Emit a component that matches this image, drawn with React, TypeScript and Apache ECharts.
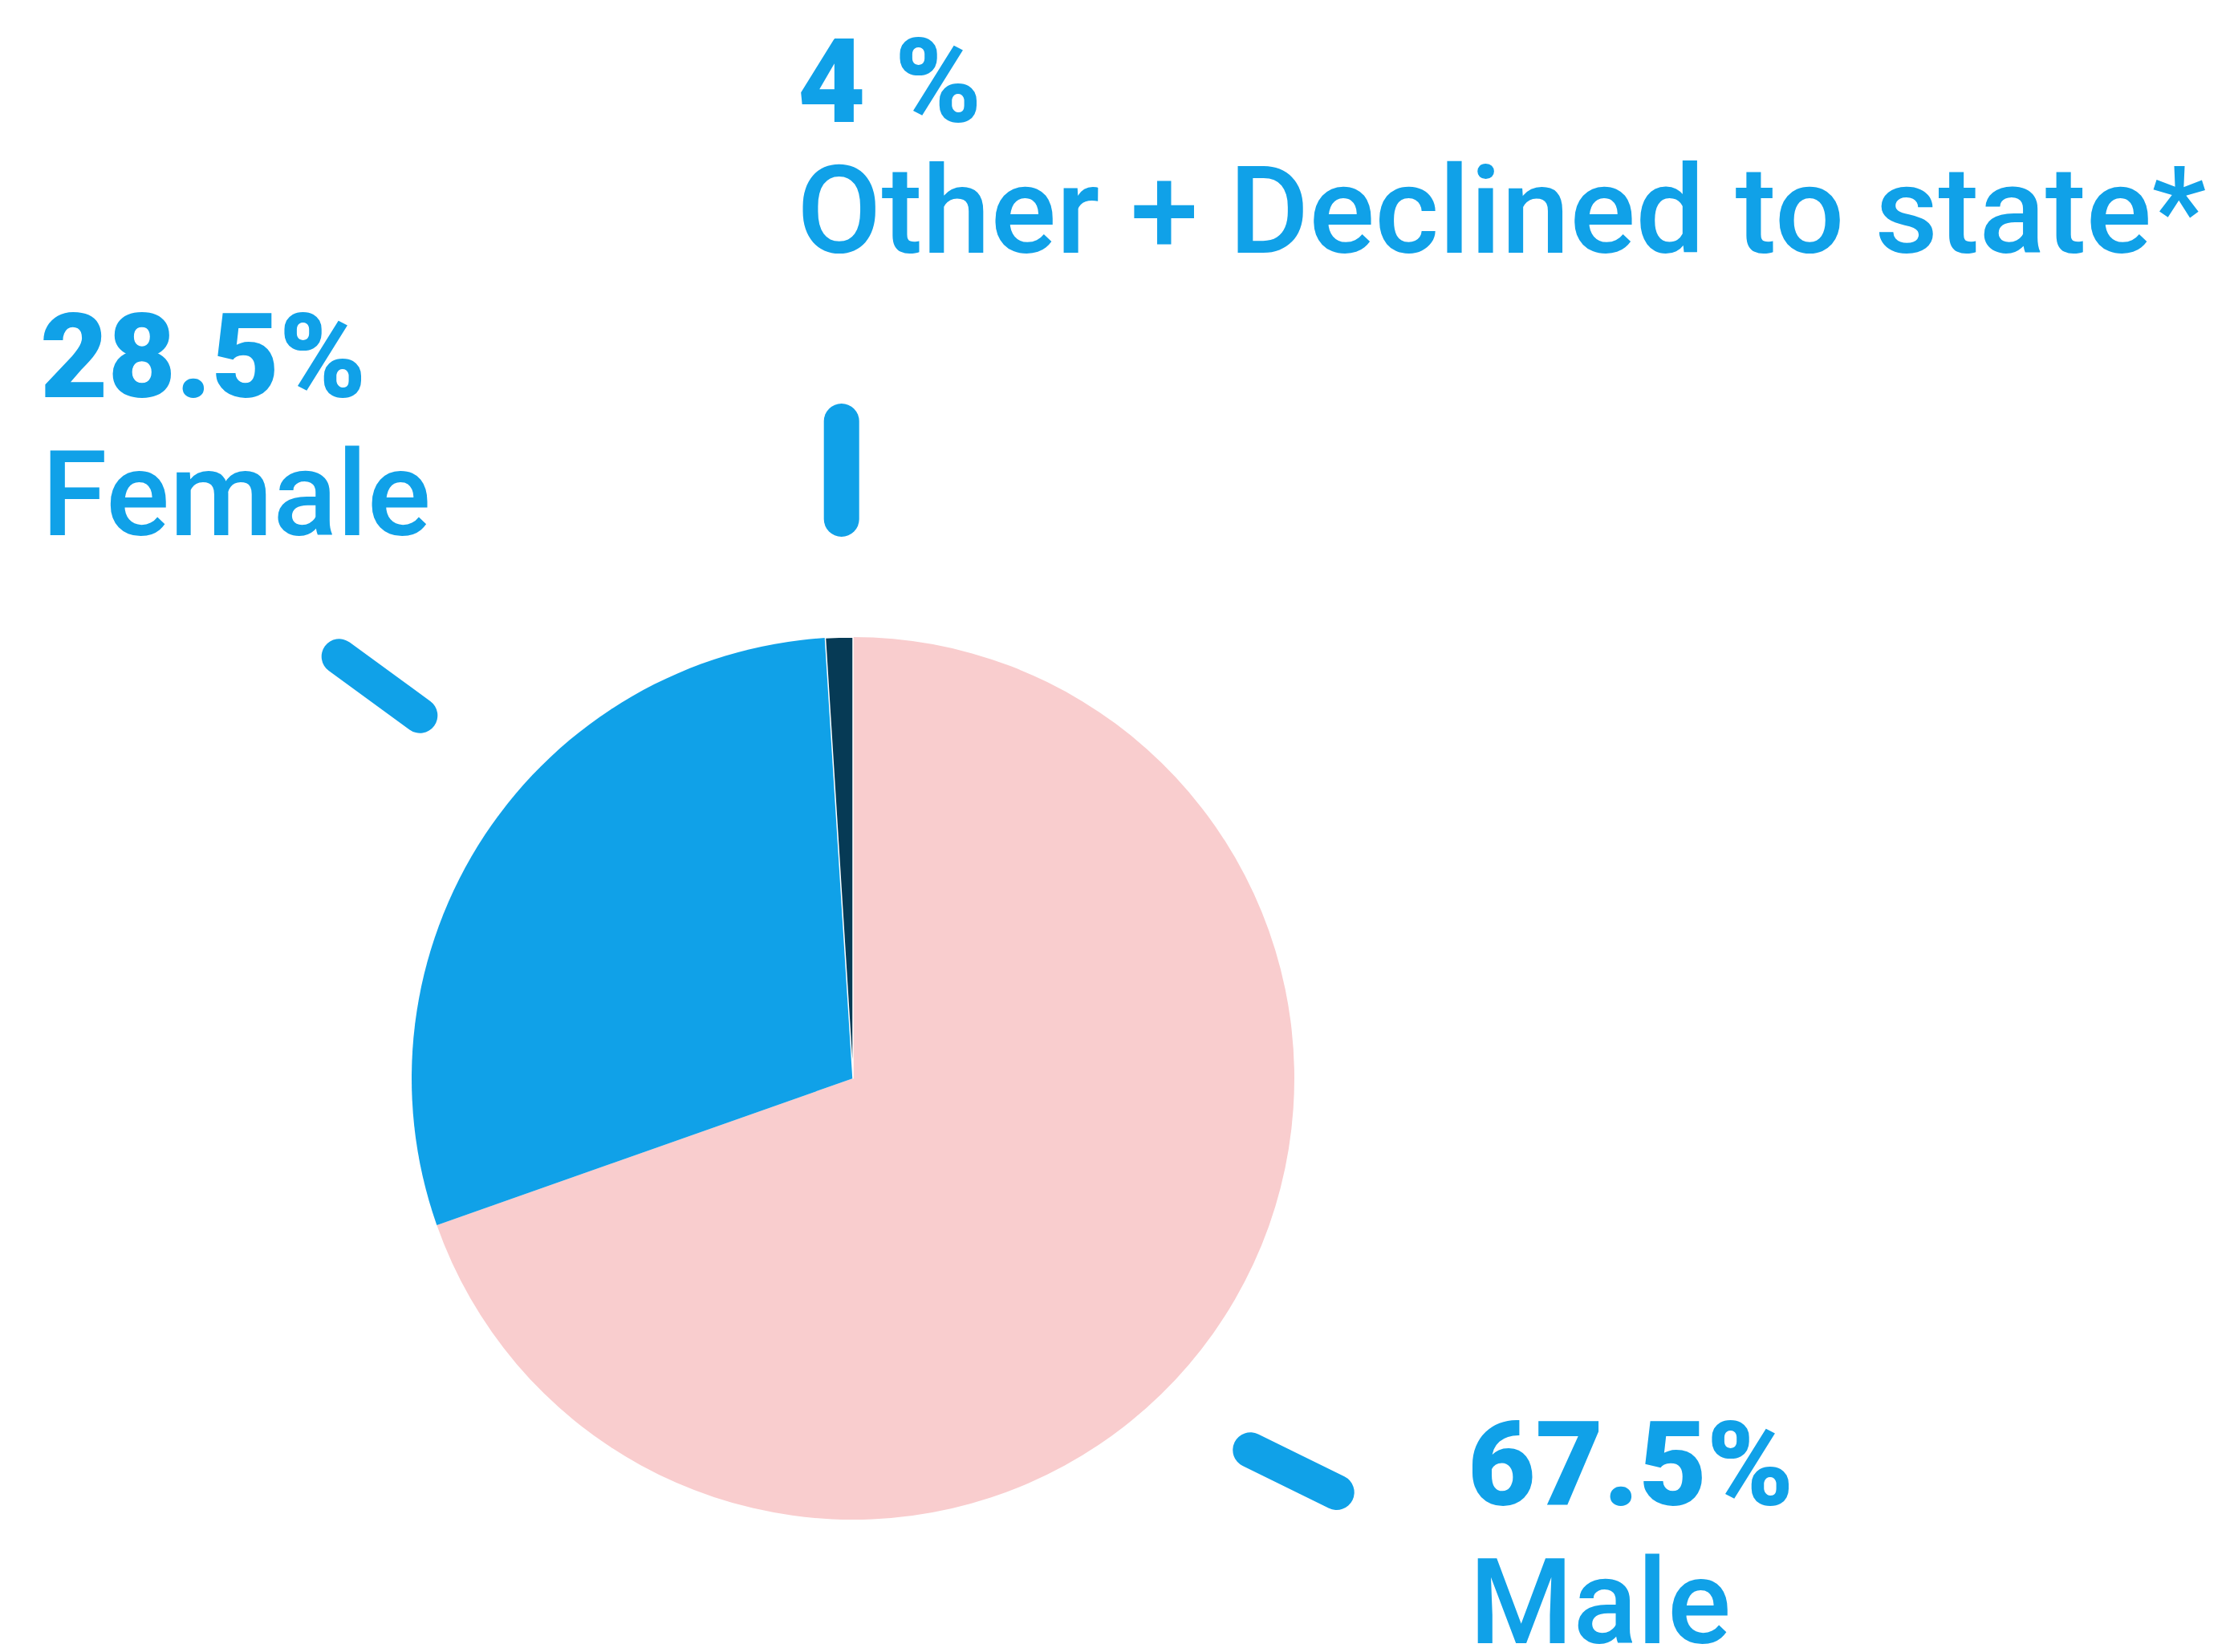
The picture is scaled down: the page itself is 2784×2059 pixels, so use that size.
import React, { useEffect, useRef } from "react";
import * as echarts from "echarts";

const categories = ["Male", "Female", "Other + Declined to state*"];
const sliceValues = [69.6, 29.4, 1.0];
const labelPercents = ["67.5%", "28.5%", "4 %"];
const sliceColors = ["#F9CDCE", "#10A1E8", "#063A55"];

const BLUE = "#10A1E8";
const FONT = "Roboto, 'Noto Sans', sans-serif";

export default function App() {
  const ref = useRef<HTMLDivElement>(null);

  useEffect(() => {
    if (!ref.current) return;
    const chart = echarts.init(ref.current, undefined, { renderer: "svg" });

    const pctText = (text: string, x: number, y: number) => ({
      type: "text",
      x,
      y,
      style: {
        text,
        fill: BLUE,
        font: `900 146px ${FONT}`,
        lineHeight: 110,
        textAlign: "left",
        textVerticalAlign: "middle",
      },
    });
    const nameText = (text: string, x: number, y: number, size = 148) => ({
      type: "text",
      x,
      y,
      style: {
        text,
        fill: BLUE,
        font: `500 ${size}px ${FONT}`,
        lineHeight: 110,
        textAlign: "left",
        textVerticalAlign: "middle",
      },
    });
    const tick = (x1: number, y1: number, x2: number, y2: number) => ({
      type: "line",
      shape: { x1, y1, x2, y2 },
      style: { stroke: BLUE, lineWidth: 44, lineCap: "round" },
    });

    chart.setOption({
      animation: false,
      backgroundColor: "#ffffff",
      series: [
        {
          type: "pie",
          center: [1063, 1344],
          radius: 550,
          startAngle: 90,
          clockwise: true,
          label: { show: false },
          labelLine: { show: false },
          emphasis: { disabled: true },
          data: categories.map((name, i) => ({
            name,
            value: sliceValues[i],
            itemStyle: {
              color: sliceColors[i],
              borderColor: "#ffffff",
              borderWidth: i === 2 ? 1.5 : 0,
            },
          })),
        },
      ],
      graphic: [
        tick(422.7, 818.3, 523.3, 891.7),
        tick(1048.7, 525, 1048.7, 647),
        tick(1558.3, 1807.3, 1665.7, 1860),
        pctText(labelPercents[2], 994, 102),
        nameText(categories[2], 993, 262, 153),
        pctText(labelPercents[1], 50, 445),
        nameText(categories[1], 52, 616),
        pctText(labelPercents[0], 1829, 1826),
        nameText(categories[0], 1831, 1997),
      ],
    });

    return () => chart.dispose();
  }, []);

  return (
    <div
      ref={ref}
      style={{ position: "absolute", left: 0, top: 0, width: 2784, height: 2059 }}
    />
  );
}
